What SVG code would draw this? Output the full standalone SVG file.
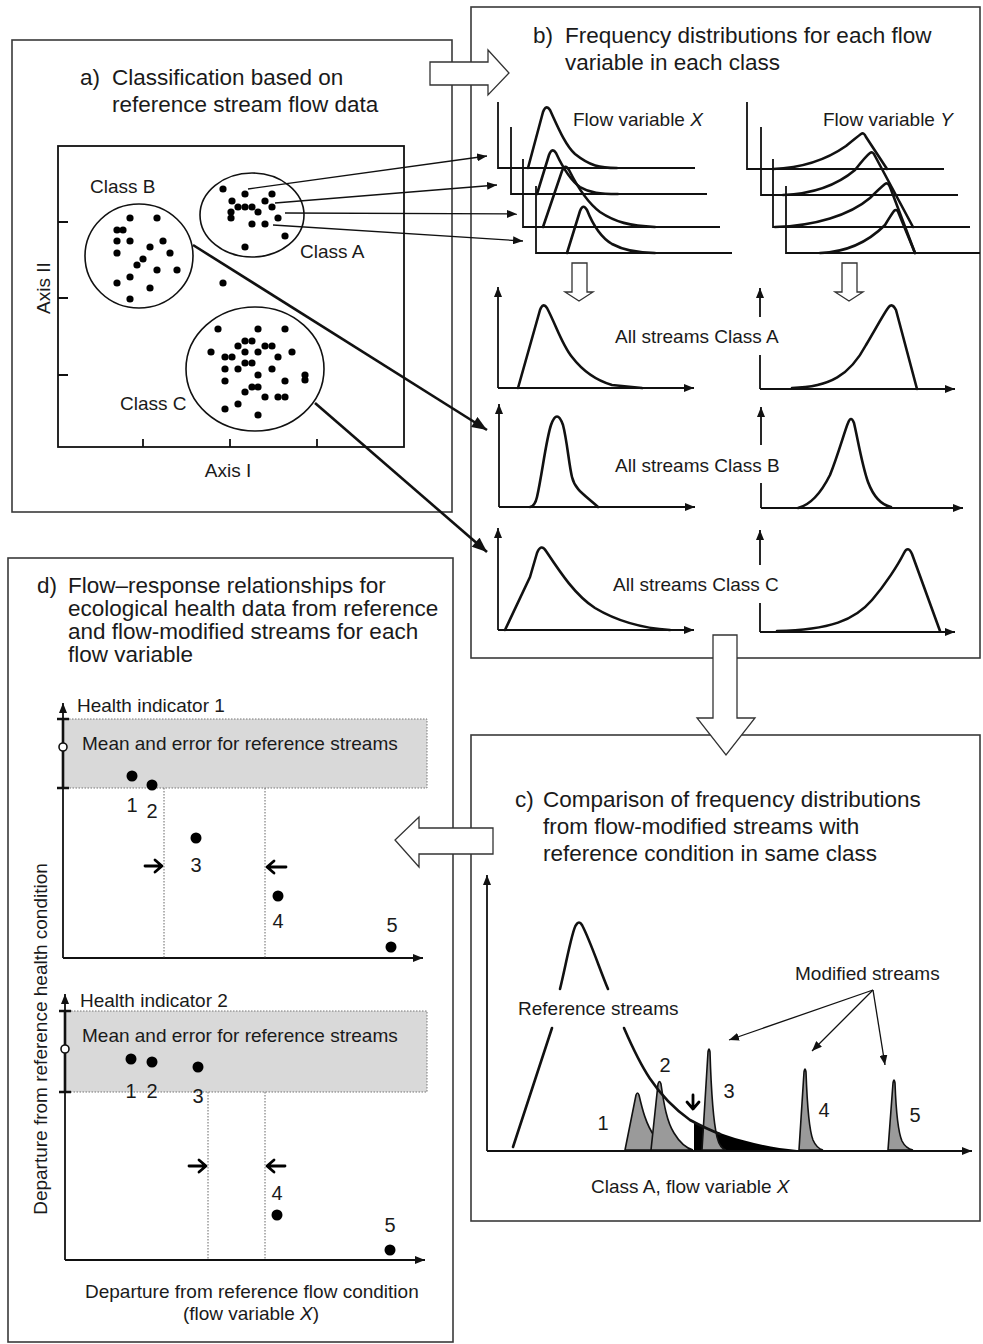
<svg xmlns="http://www.w3.org/2000/svg" width="983" height="1344" viewBox="0 0 983 1344">
<style>
text{font-family:"Liberation Sans",Arial,sans-serif;fill:#1a1a1a}
.t{font-size:22.5px}
.l{font-size:19px}
.n{font-size:20px}
.frame{fill:none;stroke:#3a3a3a;stroke-width:1.6}
.ax{fill:none;stroke:#111;stroke-width:1.8}
.cv{fill:none;stroke:#111;stroke-width:2.6;stroke-linejoin:round;stroke-linecap:round}
.dot{fill:#000}
.thin{fill:none;stroke:#111;stroke-width:1.3}
.thick{fill:none;stroke:#111;stroke-width:2.6}
.fat{fill:#fff;stroke:#333;stroke-width:1.3}
.pk{fill:#9a9a9a;stroke:#111;stroke-width:1.6}
.band{fill:#d9d9d9;stroke:#777;stroke-width:1;stroke-dasharray:1.5 1.5}
.dv{stroke:#666;stroke-width:1;stroke-dasharray:1.5 1.5}
.ba{fill:none;stroke:#000;stroke-width:2.8;stroke-linecap:round;stroke-linejoin:round}
</style>
<defs>
<marker id="ah" viewBox="0 0 10 8" refX="10" refY="4" markerWidth="10" markerHeight="8" markerUnits="userSpaceOnUse" orient="auto"><path d="M0,0 L10,4 L0,8 z" fill="#111"/></marker>
<marker id="ahl" viewBox="0 0 10 8" refX="10" refY="4" markerWidth="16" markerHeight="12" markerUnits="userSpaceOnUse" orient="auto"><path d="M0,0 L10,4 L0,8 z" fill="#111"/></marker>
</defs>

<!-- Panel frames -->
<g id="panel-a">
<rect class="frame" x="12" y="40" width="440" height="472"/>
<text class="t" x="80" y="85">a)</text>
<text class="t" x="112" y="85">Classification based on</text>
<text class="t" x="112" y="112">reference stream flow data</text>
<rect x="58" y="146" width="346" height="301" fill="none" stroke="#111" stroke-width="1.8"/>
<g class="ax">
<path d="M58,222 H68 M58,298 H68 M58,375 H68 M143,447 V439 M230,447 V439 M317,447 V439"/>
</g>
<text class="l" x="228" y="477" text-anchor="middle">Axis I</text>
<text class="l" x="50" y="288" text-anchor="middle" transform="rotate(-90 50 288)">Axis II</text>
<g id="class-a">
<ellipse cx="252" cy="215" rx="52" ry="42" fill="none" stroke="#111" stroke-width="1.6"/>
<g class="dot">
<circle cx="223" cy="189" r="3.6"/><circle cx="245" cy="194" r="3.6"/><circle cx="272" cy="194" r="3.6"/>
<circle cx="232" cy="201" r="3.6"/><circle cx="265" cy="201" r="3.6"/>
<circle cx="238" cy="207" r="3.6"/><circle cx="245" cy="207" r="3.6"/><circle cx="252" cy="207" r="3.6"/><circle cx="272" cy="207" r="3.6"/>
<circle cx="231" cy="212" r="3.6"/><circle cx="258" cy="212" r="3.6"/>
<circle cx="231" cy="218" r="3.6"/><circle cx="278" cy="218" r="3.6"/>
<circle cx="252" cy="224" r="3.6"/><circle cx="265" cy="224" r="3.6"/>
<circle cx="285" cy="236" r="3.6"/><circle cx="245" cy="247" r="3.6"/>
</g>
<text class="l" x="300" y="258">Class A</text>
</g>
<g id="class-b">
<ellipse cx="139" cy="256" rx="54" ry="52" fill="none" stroke="#111" stroke-width="1.6"/>
<g class="dot">
<circle cx="130" cy="218" r="3.6"/><circle cx="157" cy="218" r="3.6"/>
<circle cx="117" cy="230" r="3.6"/><circle cx="123" cy="230" r="3.6"/>
<circle cx="117" cy="241" r="3.6"/><circle cx="130" cy="241" r="3.6"/><circle cx="163" cy="241" r="3.6"/>
<circle cx="150" cy="247" r="3.6"/><circle cx="117" cy="253" r="3.6"/><circle cx="170" cy="253" r="3.6"/>
<circle cx="143" cy="259" r="3.6"/><circle cx="137" cy="265" r="3.6"/>
<circle cx="157" cy="270" r="3.6"/><circle cx="177" cy="270" r="3.6"/>
<circle cx="130" cy="277" r="3.6"/><circle cx="117" cy="283" r="3.6"/>
<circle cx="150" cy="288" r="3.6"/><circle cx="130" cy="299" r="3.6"/>
</g>
<text class="l" x="90" y="193">Class B</text>
</g>
<circle class="dot" cx="223" cy="283" r="3.6"/>
<g id="class-c">
<ellipse cx="255" cy="369" rx="69" ry="62" fill="none" stroke="#111" stroke-width="1.6"/>
<g class="dot">
<circle cx="218" cy="329" r="3.6"/><circle cx="258" cy="329" r="3.6"/><circle cx="285" cy="329" r="3.6"/>
<circle cx="245" cy="341" r="3.6"/><circle cx="252" cy="341" r="3.6"/>
<circle cx="238" cy="346" r="3.6"/><circle cx="265" cy="346" r="3.6"/><circle cx="272" cy="346" r="3.6"/>
<circle cx="211" cy="352" r="3.6"/><circle cx="245" cy="352" r="3.6"/><circle cx="258" cy="352" r="3.6"/><circle cx="292" cy="352" r="3.6"/>
<circle cx="225" cy="357" r="3.6"/><circle cx="232" cy="357" r="3.6"/><circle cx="278" cy="357" r="3.6"/>
<circle cx="245" cy="363" r="3.6"/><circle cx="252" cy="363" r="3.6"/>
<circle cx="225" cy="369" r="3.6"/><circle cx="238" cy="369" r="3.6"/><circle cx="272" cy="369" r="3.6"/>
<circle cx="258" cy="375" r="3.6"/><circle cx="305" cy="375" r="3.6"/><circle cx="305" cy="380" r="3.6"/>
<circle cx="225" cy="381" r="3.6"/><circle cx="285" cy="381" r="3.6"/>
<circle cx="252" cy="387" r="3.6"/><circle cx="258" cy="387" r="3.6"/>
<circle cx="245" cy="392" r="3.6"/><circle cx="265" cy="397" r="3.6"/>
<circle cx="278" cy="397" r="3.6"/><circle cx="285" cy="397" r="3.6"/>
<circle cx="238" cy="404" r="3.6"/><circle cx="225" cy="409" r="3.6"/><circle cx="258" cy="415" r="3.6"/>
</g>
<text class="l" x="120" y="410">Class C</text>
</g>
</g>

<g id="panel-b">
<rect class="frame" x="471" y="7" width="509" height="651"/>
<text class="t" x="533" y="43">b)</text>
<text class="t" x="565" y="43">Frequency distributions for each flow</text>
<text class="t" x="565" y="70">variable in each class</text>
<g id="stack-x">
<path class="ax" d="M498,102 V168 H695 M511,127 V194 H707 M523,159 V227 H720 M536,186 V253 H732"/>
<path class="cv" d="M528,168 L543,112 Q546,104 550,110 C557,125 565,145 575,154 C590,166 600,168 617,168"/>
<path class="cv" d="M537,194 L549,155 Q552,147 556,153 C563,168 570,180 580,187 C590,193 600,194 618,194"/>
<path class="cv" d="M543,227 L562,171 Q565,163 569,170 C578,188 588,203 600,212 C615,222 630,226 655,227"/>
<path class="cv" d="M567,253 L580,211 Q583,203 587,210 C593,225 600,237 612,244 C625,251 640,253 655,253"/>
<text class="l" x="573" y="126">Flow variable <tspan font-style="italic">X</tspan></text>
</g>
<g id="stack-y">
<path class="ax" d="M747,102 V169 H944 M761,127 V195 H958 M773,159 V227 H970 M786,186 V253 H980"/>
<path class="cv" d="M773,169 C800,168 826,160 846,146 Q857,137 861,134 Q864,132 866,137 L887,169"/>
<path class="cv" d="M783,195 C810,194 836,186 855,170 Q866,156 870,153 Q873,151 875,156 L913,227"/>
<path class="cv" d="M775,227 C815,226 850,215 870,198 Q880,188 885,184 Q888,182 890,187 L915,253"/>
<path class="cv" d="M820,253 C850,252 870,240 885,225 Q891,215 894,211 Q897,208 899,214 L915,253"/>
<text class="l" x="823" y="126">Flow variable <tspan font-style="italic">Y</tspan></text>
</g>
<polygon class="fat" points="572,263 587,263 587,292 593,292 579,301 565,292 572,292"/>
<polygon class="fat" points="842,263 857,263 857,292 863,292 849,301 835,292 842,292"/>
<g id="dist-a">
<path class="ax" d="M498,388 V287" marker-end="url(#ah)"/>
<path class="ax" d="M498,388 H694" marker-end="url(#ah)"/>
<path class="cv" d="M518,388 L540,310 Q543,302 547,308 C556,325 562,345 572,357 C582,370 595,380 612,385 L642,388"/>
<path class="ax" d="M760,389 V355 M760,317 V288" marker-end="url(#ah)"/>
<path class="ax" d="M760,389 H955" marker-end="url(#ah)"/>
<path class="cv" d="M792,388 C830,387 850,375 866,345 C875,330 883,315 888,308 Q892,302 896,310 L917,389"/>
<text class="l" x="615" y="343">All streams Class A</text>
</g>
<g id="dist-b">
<path class="ax" d="M499,507 V404" marker-end="url(#ah)"/>
<path class="ax" d="M499,507 H695" marker-end="url(#ah)"/>
<path class="cv" d="M530,507 Q535,506 537,497 C542,475 546,440 551,425 Q557,408 563,425 C567,440 569,465 572,477 C575,490 585,495 598,507"/>
<path class="ax" d="M761,508 V483 M761,445 V407" marker-end="url(#ah)"/>
<path class="ax" d="M761,508 H963" marker-end="url(#ah)"/>
<path class="cv" d="M798,508 C810,505 820,495 830,475 C838,455 845,430 848,423 Q851,415 854,423 C858,440 862,465 868,482 C874,498 882,505 891,507"/>
<text class="l" x="615" y="472">All streams Class B</text>
</g>
<g id="dist-c">
<path class="ax" d="M498,630 V528" marker-end="url(#ah)"/>
<path class="ax" d="M498,630 H694" marker-end="url(#ah)"/>
<path class="cv" d="M505,630 L530,577 L537,553 Q541,543 546,551 C560,572 575,595 595,608 C615,620 640,628 670,630"/>
<path class="ax" d="M760,632 V603 M760,565 V530" marker-end="url(#ah)"/>
<path class="ax" d="M760,632 H955" marker-end="url(#ah)"/>
<path class="cv" d="M777,631 C830,630 855,620 872,600 C885,585 898,565 904,553 Q908,545 912,554 L940,631"/>
<text class="l" x="613" y="591">All streams Class C</text>
</g>
</g>

<g id="panel-c">
<rect class="frame" x="471" y="735" width="509" height="486"/>
<text class="t" x="515" y="807">c)</text>
<text class="t" x="543" y="807">Comparison of frequency distributions</text>
<text class="t" x="543" y="834">from flow-modified streams with</text>
<text class="t" x="543" y="861">reference condition in same class</text>
<path class="ax" d="M487,1151 V875" marker-end="url(#ah)"/>
<path class="ax" d="M487,1151 H972" marker-end="url(#ah)"/>
<path d="M694,1122 C720,1135 760,1147 797,1150 L694,1150 Z" fill="#000"/>
<path class="pk" d="M625,1150 L636,1095 Q637.5,1091 639,1095 C642,1108 646,1125 655,1137 C663,1146 672,1149 683,1150 Z"/>
<path class="pk" d="M651,1150 L658,1084 Q659.5,1079 661,1084 C664,1105 667,1122 674,1133 C680,1143 686,1148 693,1150 Z"/>
<path class="pk" d="M702,1150 L708,1052 Q709,1046 710,1052 C711,1085 713,1120 717,1137 C719,1145 722,1149 726,1150 Z"/>
<path class="pk" d="M799,1150 L804,1072 Q805,1066 806,1072 C807,1100 809,1130 813,1140 C816,1147 819,1149 823,1150 Z"/>
<path class="pk" d="M888,1150 L893,1083 Q894,1077 895,1083 C896,1110 898,1132 902,1141 C905,1147 908,1149 913,1150 Z"/>
<path class="cv" d="M513,1147 L552,1028"/>
<path class="cv" d="M560,989 C566,965 572,930 576,925 Q579,920 582,925 C590,940 600,970 608,989"/>
<path class="cv" d="M624,1028 C640,1065 655,1095 690,1120 C705,1128 712,1131 720,1134"/>
<text class="l" x="518" y="1015">Reference streams</text>
<text class="l" x="795" y="980">Modified streams</text>
<path class="thin" d="M873,990 L729,1040" marker-end="url(#ah)"/>
<path class="thin" d="M873,990 L812,1051" marker-end="url(#ah)"/>
<path class="thin" d="M873,990 L885,1065" marker-end="url(#ah)"/>
<path class="ba" d="M693,1095 V1108 M687,1102 L693,1109 L699,1102"/>
<text class="n" x="603" y="1130" text-anchor="middle">1</text>
<text class="n" x="665" y="1072" text-anchor="middle">2</text>
<text class="n" x="729" y="1098" text-anchor="middle">3</text>
<text class="n" x="824" y="1117" text-anchor="middle">4</text>
<text class="n" x="915" y="1122" text-anchor="middle">5</text>
<text class="l" x="591" y="1193">Class A, flow variable <tspan font-style="italic">X</tspan></text>
</g>

<g id="panel-d">
<rect class="frame" x="8" y="558" width="445" height="784"/>
<text class="t" x="37" y="593">d)</text>
<text class="t" x="68" y="593">Flow–response relationships for</text>
<text class="t" x="68" y="616">ecological health data from reference</text>
<text class="t" x="68" y="639">and flow-modified streams for each</text>
<text class="t" x="68" y="662">flow variable</text>
<g id="plot-1">
<rect class="band" x="63" y="719" width="364" height="69"/>
<path class="ax" d="M63,958 V703" marker-end="url(#ah)"/>
<path class="ax" d="M63,958 H423" marker-end="url(#ah)"/>
<path d="M63,719 V788 M57,719 H69 M57,788 H69" stroke="#111" stroke-width="2.6" fill="none"/>
<circle cx="63" cy="747" r="4" fill="#fff" stroke="#111" stroke-width="1.6"/>
<path class="dv" d="M164,788 V958 M265,788 V958"/>
<text class="l" x="77" y="712">Health indicator 1</text>
<text class="l" x="82" y="750">Mean and error for reference streams</text>
<g class="dot"><circle cx="132" cy="776" r="5.5"/><circle cx="152" cy="785" r="5.5"/><circle cx="196" cy="838" r="5.5"/><circle cx="278" cy="896" r="5.5"/><circle cx="391" cy="947" r="5.5"/></g>
<text class="n" x="132" y="812" text-anchor="middle">1</text>
<text class="n" x="152" y="818" text-anchor="middle">2</text>
<text class="n" x="196" y="872" text-anchor="middle">3</text>
<text class="n" x="278" y="928" text-anchor="middle">4</text>
<text class="n" x="392" y="932" text-anchor="middle">5</text>
<path class="ba" d="M145,866 H161 M155,860 L162,866 L155,872"/>
<path class="ba" d="M286,867 H268 M274,861 L267,867 L274,873"/>
</g>
<g id="plot-2">
<rect class="band" x="65" y="1011" width="362" height="81"/>
<path class="ax" d="M65,1260 V994" marker-end="url(#ah)"/>
<path class="ax" d="M65,1260 H425" marker-end="url(#ah)"/>
<path d="M65,1011 V1092 M59,1011 H71 M59,1092 H71" stroke="#111" stroke-width="2.6" fill="none"/>
<circle cx="65" cy="1049" r="4" fill="#fff" stroke="#111" stroke-width="1.6"/>
<path class="dv" d="M208,1092 V1260 M265,1092 V1260"/>
<text class="l" x="80" y="1007">Health indicator 2</text>
<text class="l" x="82" y="1042">Mean and error for reference streams</text>
<g class="dot"><circle cx="131" cy="1059" r="5.5"/><circle cx="152" cy="1062" r="5.5"/><circle cx="198" cy="1067" r="5.5"/><circle cx="277" cy="1215" r="5.5"/><circle cx="390" cy="1250" r="5.5"/></g>
<text class="n" x="131" y="1098" text-anchor="middle">1</text>
<text class="n" x="152" y="1098" text-anchor="middle">2</text>
<text class="n" x="198" y="1103" text-anchor="middle">3</text>
<text class="n" x="277" y="1200" text-anchor="middle">4</text>
<text class="n" x="390" y="1232" text-anchor="middle">5</text>
<path class="ba" d="M189,1166 H205 M199,1160 L206,1166 L199,1172"/>
<path class="ba" d="M285,1166 H268 M274,1160 L267,1166 L274,1172"/>
</g>
<text class="l" x="85" y="1298">Departure from reference flow condition</text>
<text class="l" x="251" y="1320" text-anchor="middle">(flow variable <tspan font-style="italic">X</tspan>)</text>
<text class="l" x="47" y="1039" text-anchor="middle" transform="rotate(-90 47 1039)">Departure from reference health condition</text>
</g>

<g id="connectors">
<path class="thin" d="M248,189 L487,156" marker-end="url(#ah)"/>
<path class="thin" d="M275,203 L497,185" marker-end="url(#ah)"/>
<path class="thin" d="M285,213 L517,214" marker-end="url(#ah)"/>
<path class="thin" d="M273,225 L523,241" marker-end="url(#ah)"/>
<path class="thick" d="M193,245 L487,430" marker-end="url(#ahl)"/>
<path class="thick" d="M315,403 L487,552" marker-end="url(#ahl)"/>
<polygon class="fat" points="430,62 488,62 488,50 509,73 488,95 488,85 430,85"/>
<polygon class="fat" points="713,635 737,635 737,718 755,718 726,755 697,718 713,718"/>
<polygon class="fat" points="493,828 493,854 419,854 419,867 395,840 419,817 419,828"/>
</g>
</svg>
